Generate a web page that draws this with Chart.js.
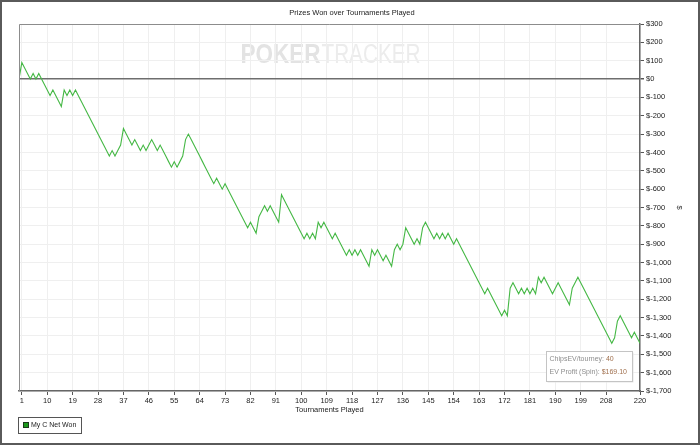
<!DOCTYPE html>
<html>
<head>
<meta charset="utf-8">
<script src="https://cdn.jsdelivr.net/npm/chart.js@4"></script>
<style>
  html, body { margin: 0; padding: 0; background: #fff; }
  #wrap { width: 700px; height: 445px; }
</style>
</head>
<body>
<div id="wrap"><canvas id="chart" width="700" height="445"></canvas></div>
<script>
// cumulative net won ($) after each tournament, index = tournaments played
const netWon = [
  0, 90, 60, 30, 0, 30, 0, 30, 0, -30,
  -60, -90, -60, -90, -120, -150, -60, -90, -60, -90,
  -60, -90, -120, -150, -180, -210, -240, -270, -300, -330,
  -360, -390, -420, -390, -420, -390, -360, -270, -300, -330,
  -360, -330, -360, -390, -360, -390, -360, -330, -360, -390,
  -360, -390, -420, -450, -480, -450, -480, -450, -420, -330,
  -300, -330, -360, -390, -420, -450, -480, -510, -540, -570,
  -540, -570, -600, -570, -600, -630, -660, -690, -720, -750,
  -780, -810, -780, -810, -840, -750, -720, -690, -720, -690,
  -720, -750, -780, -630, -660, -690, -720, -750, -780, -810,
  -840, -870, -840, -870, -840, -870, -780, -810, -780, -810,
  -840, -870, -840, -870, -900, -930, -960, -930, -960, -930,
  -960, -930, -960, -990, -1020, -930, -960, -930, -960, -990,
  -960, -990, -1020, -930, -900, -930, -900, -810, -840, -870,
  -900, -870, -900, -810, -780, -810, -840, -870, -840, -870,
  -840, -870, -840, -870, -900, -870, -900, -930, -960, -990,
  -1020, -1050, -1080, -1110, -1140, -1170, -1140, -1170, -1200, -1230,
  -1260, -1290, -1260, -1290, -1140, -1110, -1140, -1170, -1140, -1170,
  -1140, -1170, -1140, -1170, -1080, -1110, -1080, -1110, -1140, -1170,
  -1140, -1110, -1140, -1170, -1200, -1230, -1140, -1110, -1080, -1110,
  -1140, -1170, -1200, -1230, -1260, -1290, -1320, -1350, -1380, -1410,
  -1440, -1410, -1320, -1290, -1320, -1350, -1380, -1410, -1380, -1410,
  -1440
];
const xTickValues = [1, 10, 19, 28, 37, 46, 55, 64, 73, 82, 91, 100, 109, 118,
  127, 136, 145, 154, 163, 172, 181, 190, 199, 208, 220];
const yMin = -1700;
const yMax = 300;
const yStep = 100;
const seriesName = 'My C Net Won';
const chipsEV = '40';
const evProfit = '$169.10';

const FONT = '"Liberation Sans", Arial, sans-serif';
const LINE_GREEN = '#45b845';

// extra bits drawn around the plot: watermark, titles, legend, info box, frame
const decorations = {
  id: 'decorations',
  beforeDraw(chart) {
    const ctx = chart.ctx;
    const a = chart.chartArea;
    const cx = (a.left + a.right) / 2;
    ctx.save();
    ctx.fillStyle = '#fff';
    ctx.fillRect(0, 0, chart.width, chart.height);

    // watermark, squeezed to the width it has in the original
    ctx.textBaseline = 'alphabetic';
    ctx.textAlign = 'left';
    const drawSqueezed = (text, font, color, left, width) => {
      ctx.font = font;
      const w = ctx.measureText(text).width;
      ctx.save();
      ctx.translate(left, a.top + 39);
      ctx.scale(width / w, 1);
      ctx.fillStyle = color;
      ctx.fillText(text, 0, 0);
      ctx.restore();
    };
    drawSqueezed('POKER', 'bold 27px ' + FONT, '#e3e3e3', cx - 89, 80);
    drawSqueezed('TRACKER', '27px ' + FONT, '#ececec', cx - 8, 99);
    ctx.restore();
  },
  afterDraw(chart) {
    const ctx = chart.ctx;
    const a = chart.chartArea;
    ctx.save();

    // top and left edges of the plot
    ctx.strokeStyle = '#8c8c8c';
    ctx.lineWidth = 1;
    ctx.beginPath();
    ctx.moveTo(a.left + 0.5, a.bottom);
    ctx.lineTo(a.left + 0.5, a.top + 0.5);
    ctx.lineTo(a.right, a.top + 0.5);
    ctx.stroke();

    ctx.fillStyle = '#222';
    ctx.font = '7.5px ' + FONT;
    ctx.textAlign = 'center';
    ctx.textBaseline = 'middle';
    ctx.fillText('Prizes Won over Tournaments Played', 352, 13);
    ctx.fillText('Tournaments Played', (a.left + a.right) / 2, 410);

    ctx.save();
    ctx.translate(679, (a.top + a.bottom) / 2);
    ctx.rotate(Math.PI / 2);
    ctx.fillText('$', 0, 0);
    ctx.restore();

    // legend
    ctx.strokeStyle = '#555';
    ctx.strokeRect(18.5, 417.5, 63, 16);
    ctx.fillStyle = '#1c9a1c';
    ctx.fillRect(23, 422, 6, 6);
    ctx.strokeStyle = '#1a3a1a';
    ctx.strokeRect(23.5, 422.5, 5, 5);
    ctx.fillStyle = '#222';
    ctx.textAlign = 'left';
    ctx.font = '7px ' + FONT;
    ctx.fillText(seriesName, 31, 425.5);

    // info box
    const bx = 546.5, by = 351.5, bw = 86, bh = 30;
    ctx.fillStyle = '#e6e6e6';
    ctx.fillRect(bx + 1, by + 1, bw, bh);
    ctx.fillStyle = '#fff';
    ctx.fillRect(bx, by, bw, bh);
    ctx.strokeStyle = '#c4c4c4';
    ctx.strokeRect(bx, by, bw, bh);
    ctx.font = '7px ' + FONT;
    const rows = [['ChipsEV/tourney: ', chipsEV], ['EV Profit (Spin): ', evProfit]];
    rows.forEach((r, i) => {
      const y = by + 8 + i * 13;
      ctx.fillStyle = '#8d8d8d';
      ctx.fillText(r[0], bx + 3, y);
      ctx.fillStyle = '#a0704e';
      ctx.fillText(r[1], bx + 3 + ctx.measureText(r[0]).width, y);
    });

    // outer frame of the picture
    ctx.strokeStyle = '#5a5a5a';
    ctx.lineWidth = 2;
    ctx.strokeRect(1, 1, chart.width - 2, chart.height - 2);
    ctx.restore();
  }
};

Chart.defaults.font.family = FONT;
Chart.defaults.font.size = 7.5;
Chart.defaults.color = '#222';

const ctx = document.getElementById('chart').getContext('2d');
new Chart(ctx, {
  type: 'line',
  data: {
    datasets: [{
      label: seriesName,
      data: netWon.map((v, i) => ({ x: i, y: v })),
      borderColor: LINE_GREEN,
      borderWidth: 1.1,
      pointRadius: 0,
      tension: 0,
      fill: false
    }]
  },
  options: {
    responsive: false,
    animation: false,
    devicePixelRatio: 1,
    layout: { padding: { left: 19, top: 24, right: 0, bottom: 24 } },
    plugins: {
      legend: { display: false },
      title: { display: false },
      tooltip: { enabled: false }
    },
    scales: {
      x: {
        type: 'linear',
        min: 0,
        max: 220,
        afterBuildTicks: s => { s.ticks = xTickValues.map(v => ({ value: v })); },
        afterFit: s => { s.height = 30; },
        ticks: { autoSkip: false, maxRotation: 0, padding: 1, color: '#222' },
        grid: { color: '#efefef', tickColor: '#555', tickLength: 4 },
        border: { color: '#666', width: 1.5 }
      },
      y: {
        position: 'right',
        min: yMin,
        max: yMax,
        afterFit: s => { s.width = 60; },
        ticks: {
          stepSize: yStep,
          padding: 2,
          color: '#222',
          callback: v => '$' + v.toLocaleString('en-US')
        },
        grid: {
          color: c => (c.tick && c.tick.value === 0) ? '#6e6e6e' : '#efefef',
          lineWidth: c => (c.tick && c.tick.value === 0) ? 1.5 : 1,
          tickColor: '#555',
          tickLength: 4
        },
        border: { color: '#666', width: 1.5 }
      }
    }
  },
  plugins: [decorations]
});
</script>
</body>
</html>
